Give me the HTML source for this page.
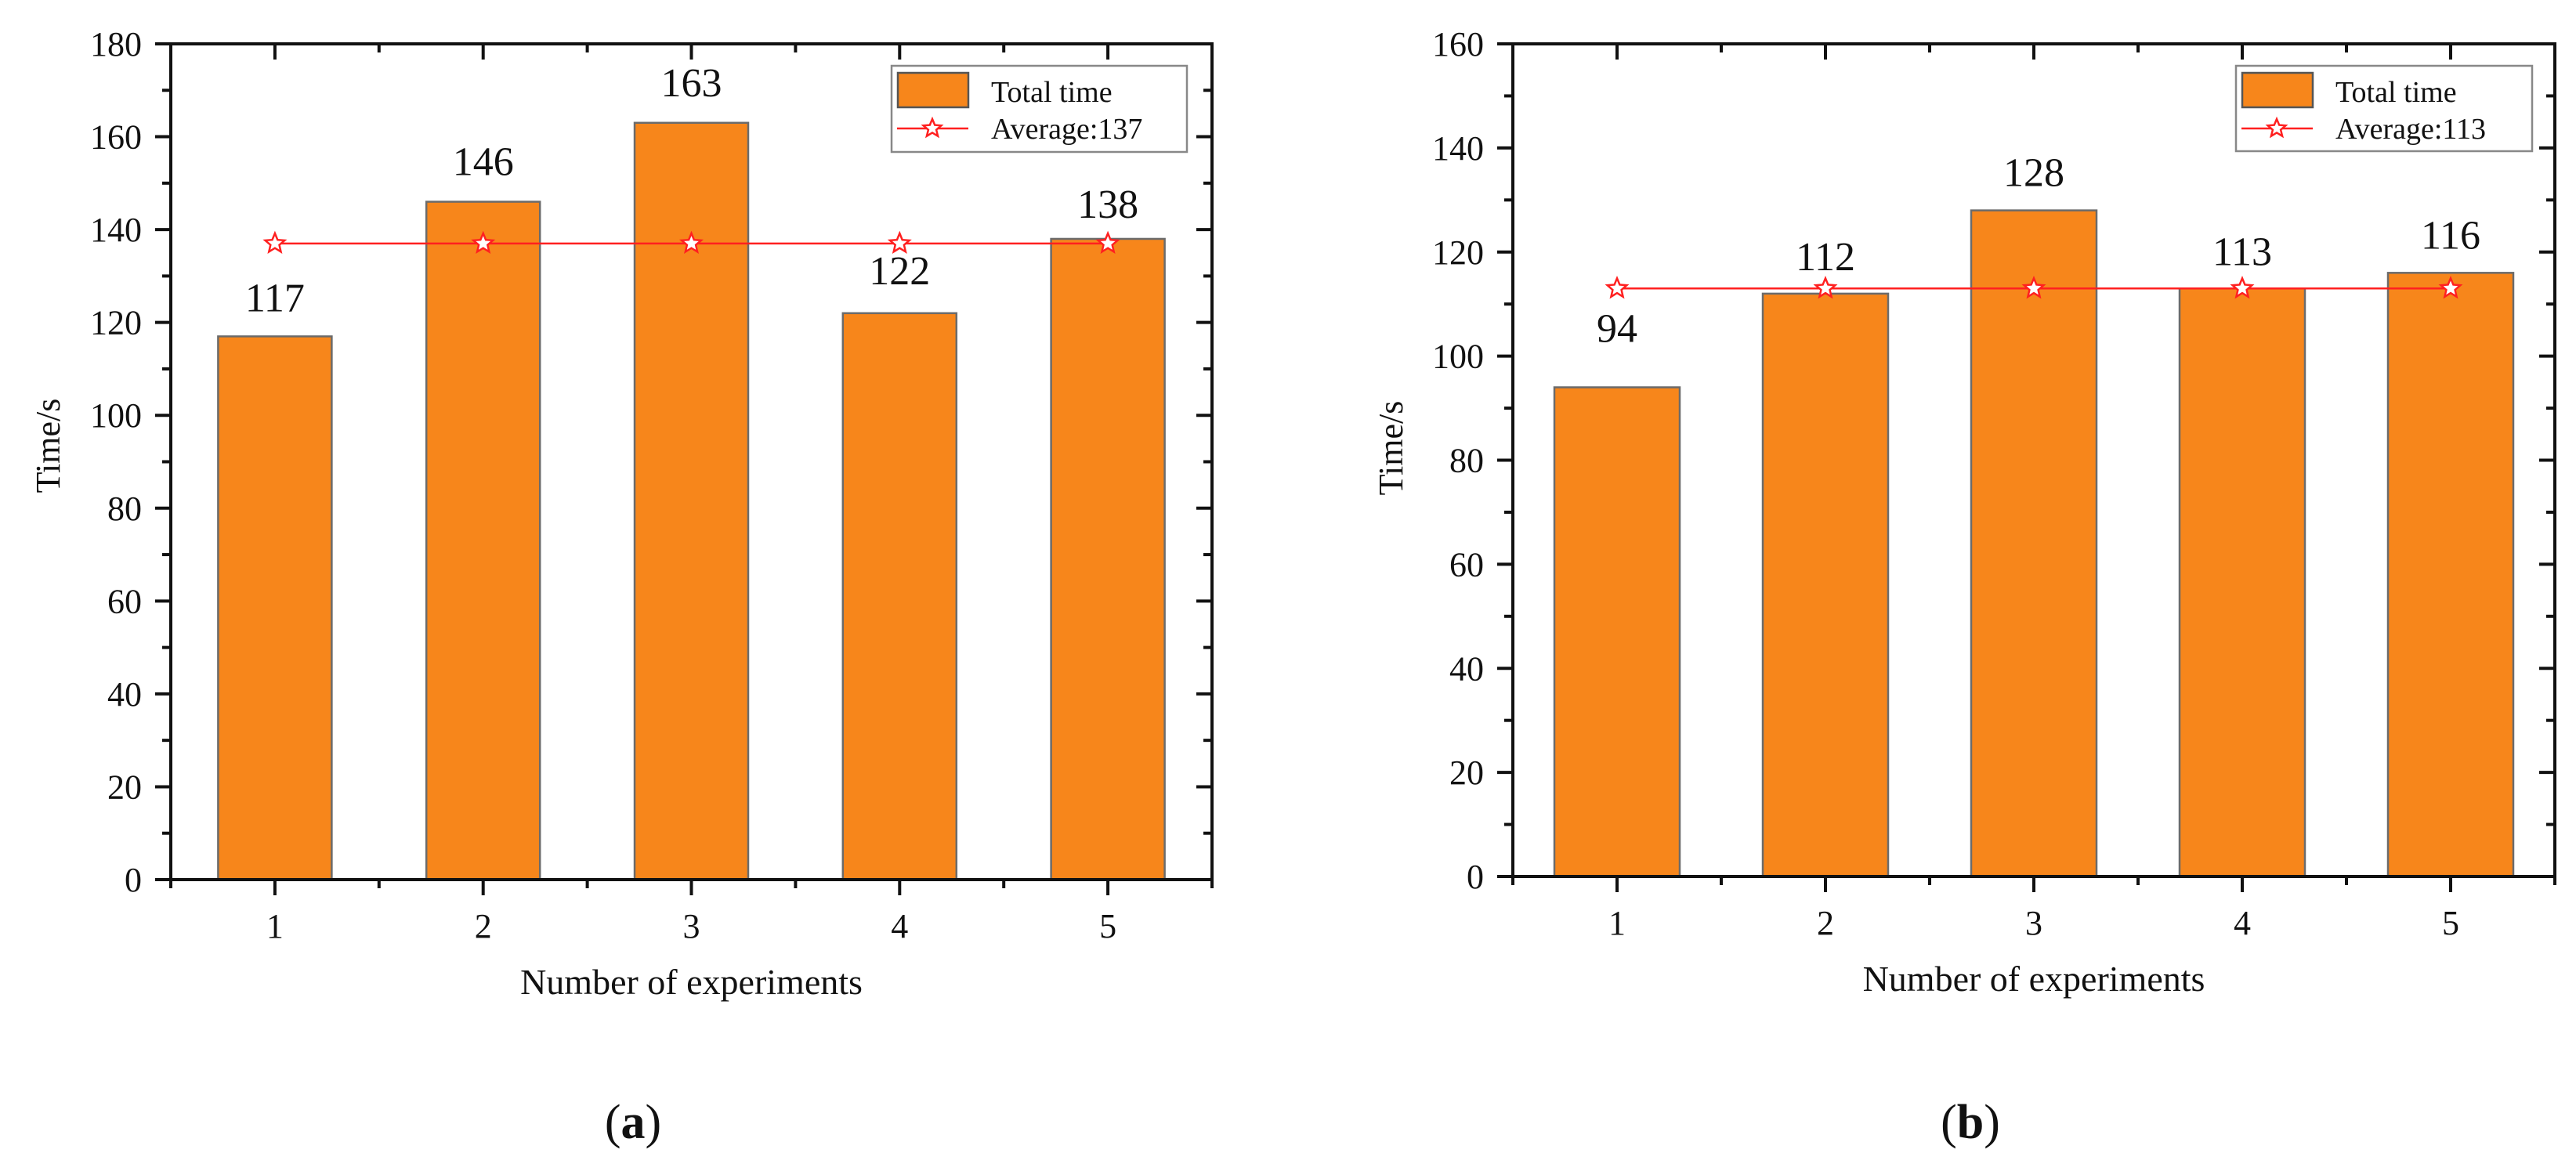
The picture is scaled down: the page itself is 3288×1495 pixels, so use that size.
<!DOCTYPE html>
<html><head><meta charset="utf-8"><style>
html,body{margin:0;padding:0;background:#fff;}
svg{display:block;}
text{font-family:"Liberation Serif",serif;fill:#111;}
</style></head><body>
<svg id="root" width="3288" height="1495" viewBox="0 0 3288 1495" xmlns="http://www.w3.org/2000/svg"></svg>
<script>
const categories = ["1","2","3","4","5"];
const valuesA = [117,146,163,122,138];
const averageA = 137;
const valuesB = [94,112,128,113,116];
const averageB = 113;
const yTicksA = [0,20,40,60,80,100,120,140,160,180];
const yTicksB = [0,20,40,60,80,100,120,140,160];
const legendLabelsA = ["Total time","Average:137"];
const legendLabelsB = ["Total time","Average:113"];
const labelLiftA = [32,34,34,37,27];
const labelLiftB = [58,30,31,30,31];

const NS="http://www.w3.org/2000/svg";
const root=document.getElementById('root');
function mk(tag,attrs,parent){const e=document.createElementNS(NS,tag);for(const k in attrs)e.setAttribute(k,attrs[k]);(parent||root).appendChild(e);return e;}
function starPath(cx,cy,r){let d="";for(let i=0;i<10;i++){const rr=i%2?r*0.45:r;const a=-Math.PI/2+i*Math.PI/5;d+=(i?"L":"M")+(cx+rr*Math.cos(a)).toFixed(1)+" "+(cy+rr*Math.sin(a)).toFixed(1);}return d+"Z";}

function chart(cfg){
  const g=mk('g',{});
  
  
  const {L,R,T,B,ymax,values,avg,ticks,barW,lifts}=cfg;
  const n=categories.length;
  const sx=(R-L)/n;
  const xs=i=>L+sx*(i+0.5);
  const ys=v=>B-(v/ymax)*(B-T);
  values.forEach((v,i)=>{
    const r=mk('rect',{x:xs(i)-barW/2,y:ys(v),width:barW,height:B-ys(v),fill:'#F7861B',stroke:'#6b6b6b','stroke-width':2.5},g);
    
    
    const t=mk('text',{x:xs(i),y:ys(v)-lifts[i],'text-anchor':'middle','font-size':52},g);
    t.textContent=v;
    
    
  });
  const ln=mk('line',{x1:xs(0),x2:xs(n-1),y1:ys(avg),y2:ys(avg),stroke:'#ff2020','stroke-width':2.5},g);
  
  
  categories.forEach((c,i)=>{
    const s=mk('path',{d:starPath(xs(i),ys(avg),13),fill:'#fff',stroke:'#ff2020','stroke-width':2.5},g);
    
    
  });
  const fr=mk('rect',{x:L,y:T,width:R-L,height:B-T,fill:'none',stroke:'#111','stroke-width':4},g);
  
  
  const step=ticks[1]-ticks[0];
  ticks.forEach((v,k)=>{
    const y=ys(v);
    mk('line',{x1:L-20,x2:L,y1:y,y2:y,stroke:'#111','stroke-width':4},g);
    mk('line',{x1:R-20,x2:R,y1:y,y2:y,stroke:'#111','stroke-width':4},g);
    if(k<ticks.length-1){const ym=ys(v+step/2);
      mk('line',{x1:L-11,x2:L,y1:ym,y2:ym,stroke:'#111','stroke-width':4},g);
      mk('line',{x1:R-11,x2:R,y1:ym,y2:ym,stroke:'#111','stroke-width':4},g);}
    const t=mk('text',{x:L-37,y:y+15,'text-anchor':'end','font-size':44},g);
    t.textContent=v;
    
    
  });
  categories.forEach((c,i)=>{
    const x=xs(i);
    mk('line',{x1:x,x2:x,y1:B,y2:B+20,stroke:'#111','stroke-width':4},g);
    mk('line',{x1:x,x2:x,y1:T,y2:T+20,stroke:'#111','stroke-width':4},g);
    const t=mk('text',{x:x,y:B+74,'text-anchor':'middle','font-size':44},g);
    t.textContent=c;
    
    
  });
  for(let i=0;i<=n;i++){const x=L+sx*i;
    mk('line',{x1:x,x2:x,y1:B,y2:B+11,stroke:'#111','stroke-width':4},g);
    mk('line',{x1:x,x2:x,y1:T,y2:T+11,stroke:'#111','stroke-width':4},g);}
  const xt=mk('text',{x:(L+R)/2,y:B+146,'text-anchor':'middle','font-size':46},g);
  xt.textContent='Number of experiments';
  
  
  const yt=mk('text',{x:cfg.ytx,y:cfg.yty,'text-anchor':'middle','font-size':44,transform:'rotate(-90 '+cfg.ytx+' '+cfg.yty+')'},g);
  yt.textContent='Time/s';
  
  
  const lg=mk('g',{},g);
  
  
  const [lx0,ly0,lx1,ly1]=cfg.legend;
  mk('rect',{x:lx0,y:ly0,width:lx1-lx0,height:ly1-ly0,fill:'#fff',stroke:'#888','stroke-width':2.5},lg);
  const sw=mk('rect',{x:lx0+8,y:ly0+9,width:90,height:44,fill:'#F7861B',stroke:'#555','stroke-width':2.5},lg);
  
  
  mk('line',{x1:lx0+7,x2:lx0+98,y1:ly0+80,y2:ly0+80,stroke:'#ff2020','stroke-width':2.5},lg);
  mk('path',{d:starPath(lx0+52,ly0+80,12),fill:'#fff',stroke:'#ff2020','stroke-width':2.5},lg);
  cfg.labels.forEach((s,k)=>{
    const t=mk('text',{x:lx0+127,y:ly0+46+k*47,'font-size':38},lg);
    t.textContent=s;
    
    
  });
  const cap=mk('text',{x:cfg.capX,y:1453,'text-anchor':'middle','font-size':62},g);
  cap.innerHTML='(<tspan font-weight="bold">'+cfg.cap+'</tspan>)';
  
  
}
chart({name:'chart-a',L:218,R:1547,T:56,B:1123,ymax:180,values:valuesA,avg:averageA,ticks:yTicksA,barW:145,lifts:labelLiftA,
  ytx:76,yty:569,legend:[1138,84,1515,194],labels:legendLabelsA,capX:808,cap:'a'});
chart({name:'chart-b',L:1931,R:3261,T:56,B:1119,ymax:160,values:valuesB,avg:averageB,ticks:yTicksB,barW:160,lifts:labelLiftB,
  ytx:1790,yty:572,legend:[2854,84,3232,193],labels:legendLabelsB,capX:2515,cap:'b'});
</script>
</body></html>
